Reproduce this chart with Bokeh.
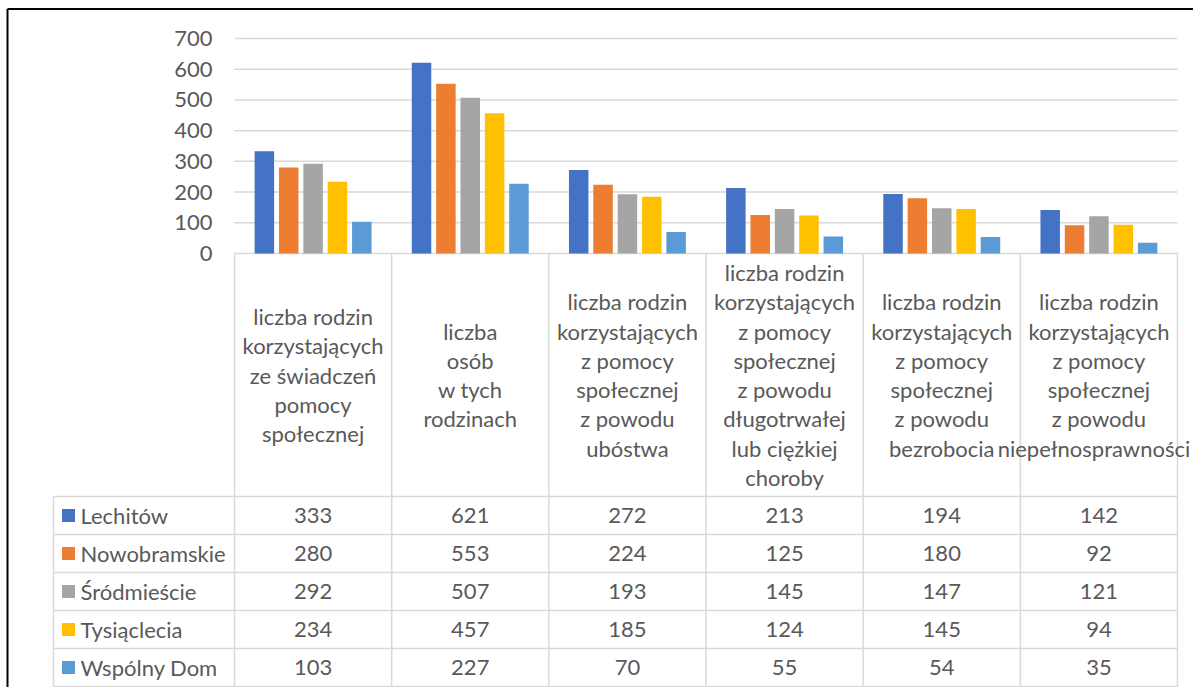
from bokeh.plotting import figure
from bokeh.models import Range1d, FixedTicker, ColumnDataSource, LinearAxis
from bokeh.core.properties import value
from bokeh.embed import file_html
from bokeh.resources import INLINE

# ---------------- data ----------------
categories = [
    "liczba rodzin\nkorzystających\nze świadczeń\npomocy\nspołecznej",
    "liczba\nosób\nw tych\nrodzinach",
    "liczba rodzin\nkorzystających\nz pomocy\nspołecznej\nz powodu\nubóstwa",
    "liczba rodzin\nkorzystających\nz pomocy\nspołecznej\nz powodu\ndługotrwałej\nlub ciężkiej\nchoroby",
    "liczba rodzin\nkorzystających\nz pomocy\nspołecznej\nz powodu\nbezrobocia",
    "liczba rodzin\nkorzystających\nz pomocy\nspołecznej\nz powodu\nniepełnosprawności",
]
series_names = ["Lechitów", "Nowobramskie", "Śródmieście", "Tysiąclecia", "Wspólny Dom"]
lechitow = [333, 621, 272, 213, 194, 142]
nowobramskie = [280, 553, 224, 125, 180, 92]
srodmiescie = [292, 507, 193, 145, 147, 121]
tysiaclecia = [234, 457, 185, 124, 145, 94]
wspolny_dom = [103, 227, 70, 55, 54, 35]
y_ticks = [0, 100, 200, 300, 400, 500, 600, 700]

series_values = [lechitow, nowobramskie, srodmiescie, tysiaclecia, wspolny_dom]
colors = ["#4472C4", "#ED7D31", "#A5A5A5", "#FFC000", "#5B9BD5"]

FONT = "Lato"
FSIZE = "22px"
TXT = "#595959"
GRID = "#d9d9d9"

# ---------------- geometry (reference pixels) ----------------
W, H = 1193, 687
PX0, PY0 = 4, 4            # reference pixel shown at the canvas origin
PLOT_L, PLOT_R = 238, 1181
Y0_PIX, Y700_PIX = 257, 42
NCAT = len(categories)
ux = NCAT / (PLOT_R - PLOT_L)          # index units per px
uy = 700.0 / (Y0_PIX - Y700_PIX)        # value units per px

x_start = -0.5 - (PLOT_L - PX0) * ux
x_end = x_start + W * ux
y_end = (Y0_PIX - PY0) * uy
y_start = y_end - H * uy


def X(px):
    return x_start + (px - PX0) * ux


def Y(py):
    return y_end - (py - PY0) * uy


p = figure(width=W, height=H,
           x_range=Range1d(x_start, x_end), y_range=Range1d(y_start, y_end),
           output_backend="svg", toolbar_location=None,
           x_axis_location=None, y_axis_location=None,
           min_border=0, min_border_left=0, min_border_right=0,
           min_border_top=0, min_border_bottom=0)
p.outline_line_color = None
p.grid.visible = False

# value axis placed next to the plot area
yax = LinearAxis(ticker=FixedTicker(ticks=y_ticks), fixed_location=X(216))
yax.axis_line_color = None
yax.major_tick_line_color = None
yax.minor_tick_line_color = None
yax.major_tick_out = 0
yax.major_tick_in = 0
yax.major_label_standoff = 0
yax.major_label_text_font = FONT
yax.major_label_text_font_size = FSIZE
yax.major_label_text_color = TXT
p.add_layout(yax, "left")

# gridlines
p.segment(x0=[-0.5] * len(y_ticks), x1=[NCAT - 0.5] * len(y_ticks),
          y0=y_ticks, y1=y_ticks, line_color=GRID, line_width=1.5)

# bars
slot = 0.155
bw = 0.124
for j, vals in enumerate(series_values):
    xs = [i + (j - 2) * slot for i in range(NCAT)]
    src = ColumnDataSource(dict(x=xs, top=vals))
    p.vbar(x="x", top="top", bottom=0, width=bw, source=src,
           fill_color=colors[j], line_color=None)

# ---------------- data table ----------------
LEG_L = 57
HEAD_BOT = 500
row_edges = [500, 538, 576, 614, 652, 690]
TAB_BOT = row_edges[-1]

x0s, y0s, x1s, y1s = [], [], [], []
for c in range(NCAT + 1):
    x0s.append(c - 0.5); x1s.append(c - 0.5); y0s.append(0); y1s.append(Y(TAB_BOT))
x0s.append(X(LEG_L)); x1s.append(X(LEG_L)); y0s.append(Y(HEAD_BOT)); y1s.append(Y(TAB_BOT))
for yv in row_edges:
    x0s.append(X(LEG_L)); x1s.append(NCAT - 0.5); y0s.append(Y(yv)); y1s.append(Y(yv))
p.segment(x0=x0s, y0=y0s, x1=x1s, y1=y1s, line_color=GRID, line_width=1.5)

# header labels (an over-wide line in the last column is pulled back inside the page)
LH = 29.3
HEAD_C = 378.5
hx, hy, ht, hoff = [], [], [], []
for i, cat in enumerate(categories):
    lines = cat.split("\n")
    n = len(lines)
    for m, ln in enumerate(lines):
        hx.append(i)
        hy.append(Y(HEAD_C + (m - (n - 1) / 2.0) * LH))
        ht.append(ln)
        hoff.append(-5 if (i == NCAT - 1 and len(ln) > 16) else 0)
hsrc = ColumnDataSource(dict(x=hx, y=hy, text=ht, xoff=hoff))
p.text(x="x", y="y", text="text", x_offset="xoff", source=hsrc,
       text_align="center", text_baseline="middle",
       text_font=value(FONT), text_font_size=FSIZE, text_color=TXT)

# table rows
vx, vy, vt = [], [], []
for j, vals in enumerate(series_values):
    yc = Y((row_edges[j] + row_edges[j + 1]) / 2.0)
    for i, v in enumerate(vals):
        vx.append(i)
        vy.append(yc)
        vt.append(str(v))
p.text(x=vx, y=vy, text=vt, text_align="center", text_baseline="middle",
       text_font=value(FONT), text_font_size=FSIZE, text_color=TXT)

ly = [Y((row_edges[j] + row_edges[j + 1]) / 2.0) for j in range(len(series_names))]
p.rect(x=[X(72)] * len(ly), y=ly, width=13 * ux, height=13 * uy,
       fill_color=colors, line_color=None)
p.text(x=[X(84)] * len(ly), y=ly, text=series_names, text_align="left",
       text_baseline="middle", text_font=value(FONT), text_font_size=FSIZE,
       text_color=TXT)

# outer frame of the chart object (top and left edges visible)
p.segment(x0=[X(11), X(11)], y0=[Y(12.5), Y(12.5)], x1=[X(PX0 + W), X(11)],
          y1=[Y(12.5), Y(PY0 + H)], line_color="black", line_width=2)

open("out.html", "w").write(file_html(p, INLINE))
